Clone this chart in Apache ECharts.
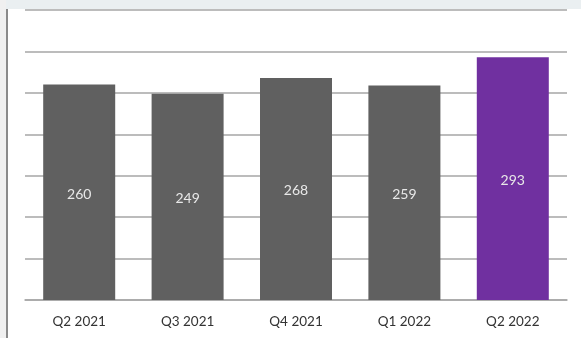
<!DOCTYPE html>
<html>
<head>
<meta charset="utf-8">
<script src="https://cdn.jsdelivr.net/npm/echarts@6/dist/echarts.min.js"></script>
<style>
  html, body { margin: 0; padding: 0; background: #fff; }
  #chart { width: 581px; height: 338px; }
</style>
</head>
<body>
<div id="chart"></div>
<script>
// quarters and values
const quarters = ["Q2 2021", "Q3 2021", "Q4 2021", "Q1 2022", "Q2 2022"];
const values = [260, 249, 268, 259, 293];
const barColors = ["#606060", "#606060", "#606060", "#606060", "#7030a0"];

const chart = echarts.init(document.getElementById("chart"));
const option = {
  backgroundColor: "#ffffff",
  animation: false,
  graphic: [
    // top band
    { type: "rect", shape: { x: 0, y: 0, width: 581, height: 9 }, style: { fill: "#eaeff1" }, z: -1 },
    // left strip + frame line
    { type: "rect", shape: { x: 0, y: 0, width: 6, height: 338 }, style: { fill: "#f0f0f0" }, z: -1 },
    { type: "rect", shape: { x: 6, y: 9, width: 2, height: 329 }, style: { fill: "#8a8a8a" }, z: -1 },
  ],
  grid: {
    left: 25,
    right: 14,
    top: 10,
    bottom: 38,
  },
  xAxis: {
    type: "category",
    data: quarters,
    axisLine: { lineStyle: { color: "#a6a6a6", width: 1.5 } },
    axisTick: { length: 5, lineStyle: { color: "#a6a6a6", width: 1.5 } },
    axisLabel: {
      color: "#333333",
      fontSize: 13.5,
      fontFamily: "Lato",
      margin: 15,
    },
  },
  yAxis: {
    type: "value",
    min: 0,
    max: 350,
    interval: 50,
    axisLabel: { show: false },
    axisLine: { show: false },
    axisTick: { show: false },
    splitLine: { lineStyle: { color: "#a6a6a6", width: 1.5 } },
  },
  series: [
    {
      type: "bar",
      barWidth: 72,
      data: values.map((v, i) => ({ value: v, itemStyle: { color: barColors[i] } })),
      label: {
        show: true,
        position: "inside",
        offset: [0, 2],
        color: "#e8e8e8",
        fontSize: 14,
        fontFamily: "Lato",
      },
    },
  ],
};
chart.setOption(option);
</script>
</body>
</html>
